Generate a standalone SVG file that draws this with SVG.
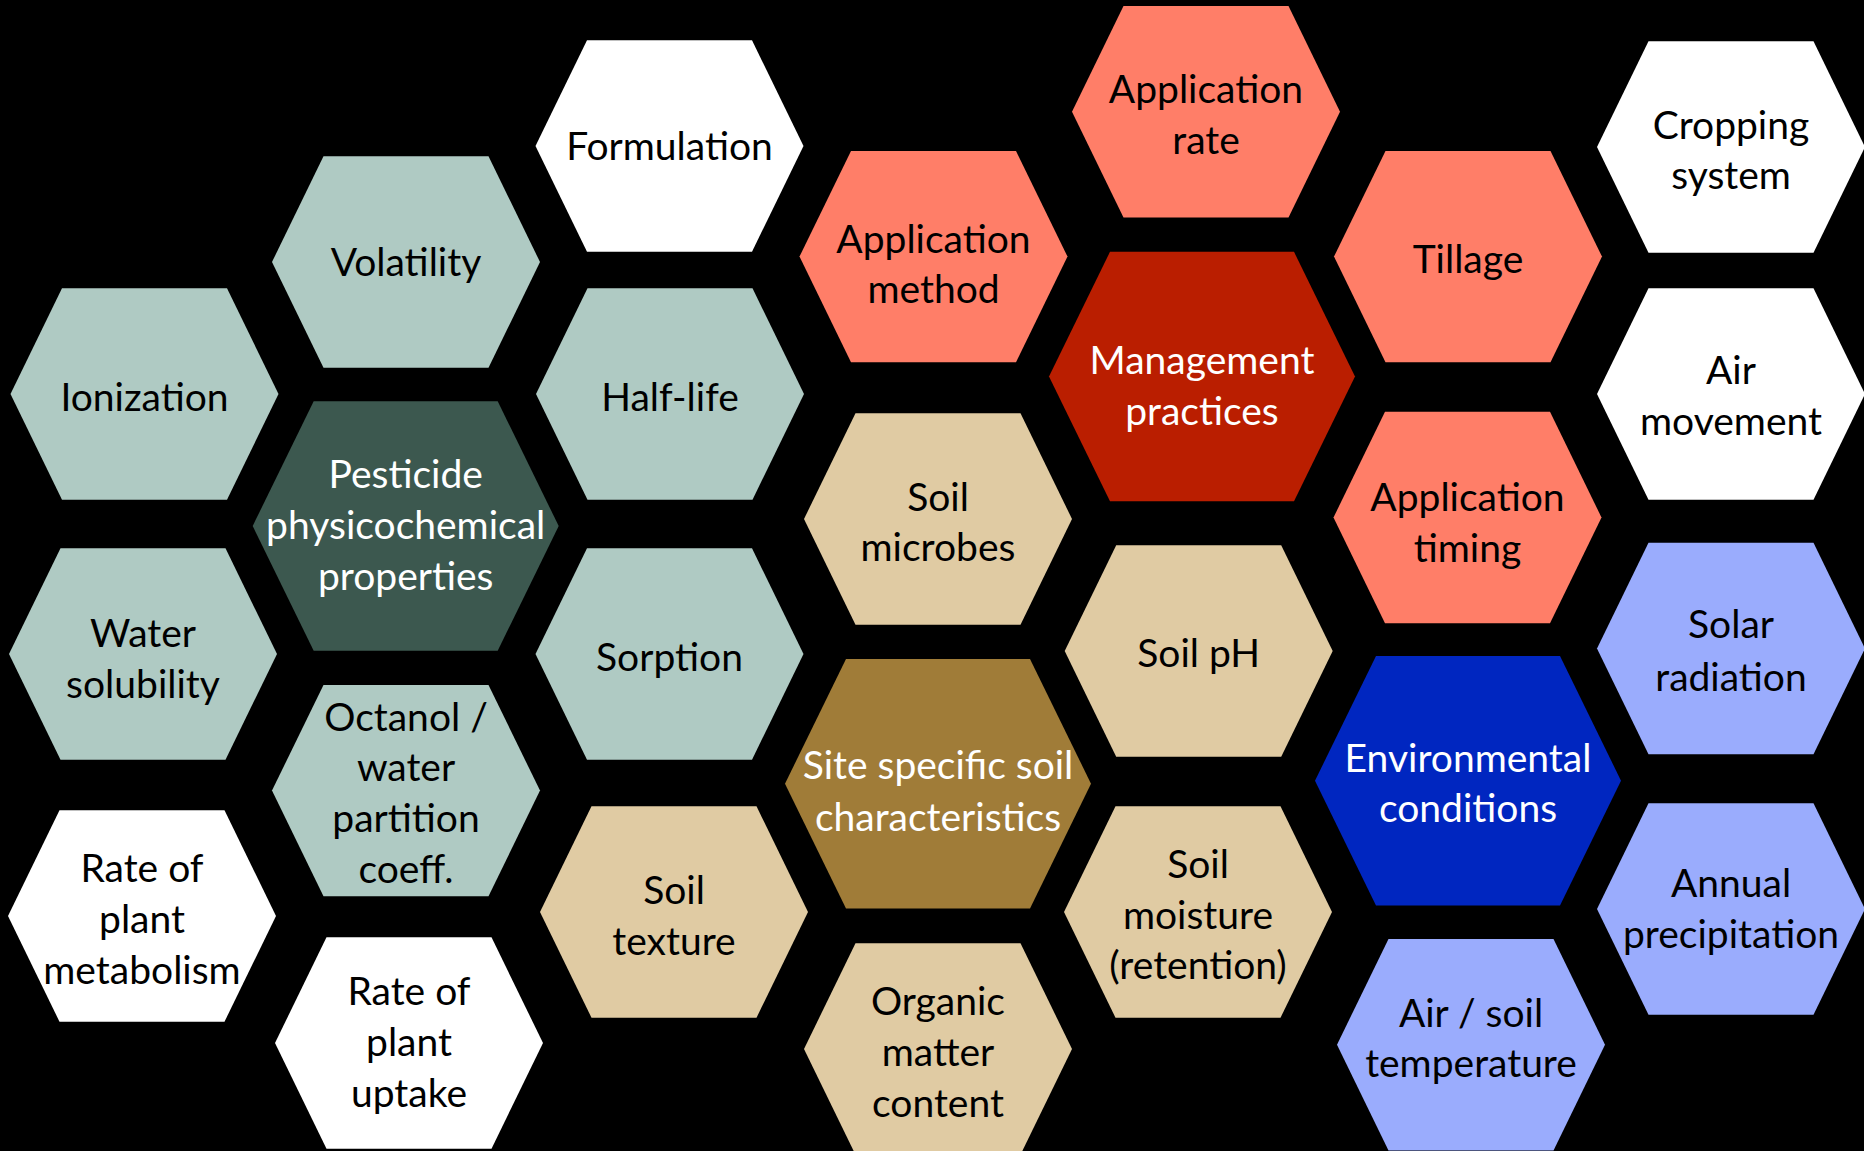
<svg xmlns="http://www.w3.org/2000/svg" xmlns:xlink="http://www.w3.org/1999/xlink" width="1864" height="1151" viewBox="0 0 1864 1151">
  <style>
    .sage { fill: #AFCAC3; }
    .white { fill: #FFFFFF; }
    .salmon { fill: #FF7E68; }
    .tan { fill: #E0CBA3; }
    .peri { fill: #9AACFD; }
    .pest { fill: #3C584F; }
    .mgmt { fill: #BA1E00; }
    .site { fill: #A07C38; }
    .env { fill: #0026C0; }
    text { font-family: Lato, "Noto Sans", sans-serif; font-size: 39px; text-anchor: middle; fill: #000000; }
    text.light { fill: #FFFFFF; }
  </style>
  <defs>
    <polygon id="hex" points="-134,0 -82.5,-105.7 82.5,-105.7 134,0 82.5,105.7 -82.5,105.7"/>
    <polygon id="hexBig" points="-153,0 -92,-124.7 92,-124.7 153,0 92,124.7 -92,124.7"/>
  </defs>
  <rect x="0" y="0" width="1864" height="1151" fill="#000000"/>

  <g transform="translate(0,1.5)">
  <!-- pesticide properties cluster -->
  <g id="formulation"><use xlink:href="#hex" class="white" transform="translate(669.5,144.5)"/><text x="669.5" y="158.7">Formulation</text></g>
  <g id="volatility"><use xlink:href="#hex" class="sage" transform="translate(406,260.5)"/><text x="406" y="274.8">Volatility</text></g>
  <g id="ionization"><use xlink:href="#hex" class="sage" transform="translate(144.5,392.5)"/><text x="144.5" y="409.6">Ionization</text></g>
  <g id="half-life"><use xlink:href="#hex" class="sage" transform="translate(670,392.5)"/><text x="670" y="409.6">Half-life</text></g>
  <g id="pesticide"><use xlink:href="#hexBig" class="pest" transform="translate(405.7,524.5)"/>
    <text class="light" x="405.7" y="486.5">Pesticide</text>
    <text class="light" x="405.7" y="537.2">physicochemical</text>
    <text class="light" x="405.7" y="588">properties</text></g>
  <g id="water-solubility"><use xlink:href="#hex" class="sage" transform="translate(143,652.5)"/>
    <text x="143" y="645.3">Water</text><text x="143" y="696.7">solubility</text></g>
  <g id="sorption"><use xlink:href="#hex" class="sage" transform="translate(669.5,652.5)"/><text x="669.5" y="669.8">Sorption</text></g>
  <g id="octanol"><use xlink:href="#hex" class="sage" transform="translate(406,789.1)"/>
    <text x="406" y="729">Octanol /</text><text x="406" y="779.4">water</text>
    <text x="406" y="830.7">partition</text><text x="406" y="881.4">coeff.</text></g>
  <g id="plant-metabolism"><use xlink:href="#hex" class="white" transform="translate(142,914.5)"/>
    <text x="142" y="880.5">Rate of</text><text x="142" y="931.6">plant</text><text x="142" y="982.4">metabolism</text></g>
  <g id="plant-uptake"><use xlink:href="#hex" class="white" transform="translate(409,1041.5)"/>
    <text x="409" y="1003.5">Rate of</text><text x="409" y="1054.6">plant</text><text x="409" y="1105.4">uptake</text></g>

  <!-- soil cluster -->
  <g id="soil-texture"><use xlink:href="#hex" class="tan" transform="translate(674,910.5)"/>
    <text x="674" y="902.5">Soil</text><text x="674" y="953.8">texture</text></g>
  <g id="soil-microbes"><use xlink:href="#hex" class="tan" transform="translate(938,517.5)"/>
    <text x="938" y="509.3">Soil</text><text x="938" y="559.2">microbes</text></g>
  <g id="site-soil"><use xlink:href="#hexBig" class="site" transform="translate(938,782.2)"/>
    <text class="light" x="938" y="777.5">Site specific soil</text>
    <text class="light" x="938" y="829">characteristics</text></g>
  <g id="organic-matter"><use xlink:href="#hex" class="tan" transform="translate(938,1047.5)"/>
    <text x="938" y="1013.5">Organic</text><text x="938" y="1064.4">matter</text><text x="938" y="1115.3">content</text></g>
  <g id="soil-ph"><use xlink:href="#hex" class="tan" transform="translate(1198.7,649.5)"/><text x="1198.7" y="665.3">Soil pH</text></g>
  <g id="soil-moisture"><use xlink:href="#hex" class="tan" transform="translate(1198,910.5)"/>
    <text x="1198" y="876">Soil</text><text x="1198" y="927.3">moisture</text><text x="1198" y="977.7">(retention)</text></g>

  <!-- management cluster -->
  <g id="application-method"><use xlink:href="#hex" class="salmon" transform="translate(933.5,255.1)"/>
    <text x="933.5" y="251.5">Application</text><text x="933.5" y="301.4">method</text></g>
  <g id="application-rate"><use xlink:href="#hex" class="salmon" transform="translate(1206,110.2)"/>
    <text x="1206" y="101.5">Application</text><text x="1206" y="152.1">rate</text></g>
  <g id="management"><use xlink:href="#hexBig" class="mgmt" transform="translate(1202,375)"/>
    <text class="light" x="1202" y="372.5">Management</text>
    <text class="light" x="1202" y="423">practices</text></g>
  <g id="tillage"><use xlink:href="#hex" class="salmon" transform="translate(1468,255.1)"/><text x="1468" y="271.4">Tillage</text></g>
  <g id="application-timing"><use xlink:href="#hex" class="salmon" transform="translate(1467.5,516)"/>
    <text x="1467.5" y="509.3">Application</text><text x="1467.5" y="560">timing</text></g>

  <!-- environment cluster -->
  <g id="environmental"><use xlink:href="#hexBig" class="env" transform="translate(1468,779.2)"/>
    <text class="light" x="1468" y="770.2">Environmental</text>
    <text class="light" x="1468" y="820.8">conditions</text></g>
  <g id="air-soil-temperature"><use xlink:href="#hex" class="peri" transform="translate(1471,1043.2)"/>
    <text x="1471" y="1025.5">Air / soil</text><text x="1471" y="1075.8">temperature</text></g>
  <g id="cropping-system"><use xlink:href="#hex" class="white" transform="translate(1731,145.5)"/>
    <text x="1731" y="137.2">Cropping</text><text x="1731" y="187.8">system</text></g>
  <g id="air-movement"><use xlink:href="#hex" class="white" transform="translate(1731,392.5)"/>
    <text x="1731" y="382.5">Air</text><text x="1731" y="433.9">movement</text></g>
  <g id="solar-radiation"><use xlink:href="#hex" class="peri" transform="translate(1731,647)"/>
    <text x="1731" y="636">Solar</text><text x="1731" y="689.3">radiation</text></g>
  <g id="annual-precipitation"><use xlink:href="#hex" class="peri" transform="translate(1731,907.5)"/>
    <text x="1731" y="895">Annual</text><text x="1731" y="946.4">precipitation</text></g>
  </g>

  <g id="connectors"/>
</svg>
